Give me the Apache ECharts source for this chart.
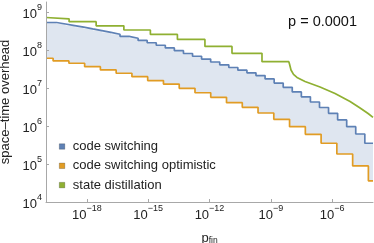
<!DOCTYPE html>
<html><head><meta charset="utf-8">
<script src="https://cdn.jsdelivr.net/npm/echarts@6/dist/echarts.min.js"></script>
<style>html,body{margin:0;padding:0;background:#fff}#c{width:374px;height:243px}</style>
</head><body><div id="c"></div>
<script>
// code switching (step starts, last entry = right edge)
const blueP = [1e-20, 3.27e-20, 9.07e-20, 2.52e-19, 7.00e-19, 1.94e-18, 5.40e-18, 1.50e-17, 4.17e-17, 1.16e-16, 3.21e-16, 8.93e-16, 2.48e-15, 6.89e-15, 1.91e-14, 5.32e-14, 1.48e-13, 4.10e-13, 1.14e-12, 3.17e-12, 8.80e-12, 2.44e-11, 6.79e-11, 1.88e-10, 5.24e-10, 1.46e-9, 4.04e-9, 1.12e-8, 3.12e-8, 8.66e-8, 2.41e-7, 6.68e-7, 1.86e-6, 5.16e-6, 1.43e-5, 3.98e-5, 1e-4];
const blueV = [5.29e8, 4.83e8, 4.39e8, 3.98e8, 3.59e8, 3.24e8, 2.90e8, 2.59e8, 2.29e8, 2.03e8, 1.78e8, 1.55e8, 1.33e8, 1.13e8, 9.59e7, 8.09e7, 6.83e7, 5.76e7, 4.83e7, 4.08e7, 3.46e7, 2.94e7, 2.50e7, 2.12e7, 1.73e7, 1.35e7, 1.04e7, 7.89e6, 5.87e6, 4.28e6, 3.07e6, 2.16e6, 1.44e6, 9.59e5, 6.16e5, 3.51e5, 3.51e5];
// code switching optimistic
const orangeP = [1e-20, 2.23e-20, 1.32e-19, 7.78e-19, 4.59e-18, 2.71e-17, 1.60e-16, 9.46e-16, 5.59e-15, 3.30e-14, 1.95e-13, 1.15e-12, 6.80e-12, 4.02e-11, 2.37e-10, 1.40e-9, 8.27e-9, 4.89e-8, 2.89e-7, 1.70e-6, 1.01e-5, 5.94e-5, 1e-4];
const orangeV = [6.05e7, 5.14e7, 4.47e7, 3.64e7, 2.98e7, 2.44e7, 1.98e7, 1.57e7, 1.27e7, 9.8e6, 7.5e6, 5.69e6, 4.10e6, 3.10e6, 2.20e6, 1.50e6, 9.6e5, 6.05e5, 3.51e5, 1.83e5, 8.9e4, 3.6e4, 3.6e4];
// state distillation (explicit vertices)
const greenP = [1e-20, 1.35e-19, 1.35e-19, 2.84e-18, 2.84e-18, 6.46e-17, 6.46e-17, 1.28e-15, 1.28e-15, 2.69e-14, 2.69e-14, 5.98e-13, 5.98e-13, 1.26e-11, 1.26e-11, 3.70e-10, 3.70e-10, 7.59e-9, 8.22e-9, 9.73e-9, 1.29e-8, 1.91e-8, 4.72e-8, 2.56e-7, 1.39e-6, 7.55e-6, 2.33e-5, 5.75e-5, 1e-4];
const greenV = [7.16e8, 6.62e8, 5.56e8, 5.56e8, 4.33e8, 4.33e8, 3.36e8, 3.36e8, 2.56e8, 2.56e8, 1.89e8, 1.89e8, 1.24e8, 1.24e8, 8.19e7, 8.19e7, 4.92e7, 4.92e7, 4.28e7, 2.98e7, 2.27e7, 1.89e7, 1.48e7, 1.06e7, 7.17e6, 4.41e6, 2.98e6, 2.13e6, 1.68e6];

const seriesNames = ['code switching', 'code switching optimistic', 'state distillation'];
const xTicks = [1e-18, 1e-15, 1e-12, 1e-9, 1e-6];
const yTicks = [1e4, 1e5, 1e6, 1e7, 1e8, 1e9];
const xRange = [1e-20, 1e-4];
const yRange = [1e4, 1.83e9];
const annotation = 'p = 0.0001';

const colors = ['#5E81B5', '#E19C24', '#8FB032'];
const MINUS = '\u2212';
function powLabel(v) {
  const e = Math.round(Math.log10(v));
  return '{b|10}{s|' + String(e).replace('-', MINUS) + '}';
}
const rich = {
  b: {fontSize: 13, lineHeight: 18, verticalAlign: 'bottom', color: '#222', fontFamily: 'Liberation Sans'},
  s: {fontSize: 9, verticalAlign: 'top', color: '#222', fontFamily: 'Liberation Sans'}
};
const axisCol = '#a8a8a8';

const chart = echarts.init(document.getElementById('c'), null, {renderer: 'canvas'});
chart.setOption({
  animation: false,
  textStyle: {fontFamily: 'Liberation Sans'},
  grid: {left: 46, right: 1, top: 2, bottom: 41, containLabel: false, outerBoundsMode: 'none'},
  title: {text: annotation, right: 12, top: 9, textStyle: {fontSize: 14.5, fontWeight: 'normal', color: '#111', fontFamily: 'Liberation Sans'}},
  legend: {
    orient: 'vertical', left: 54, top: 135, itemGap: 6.3, itemWidth: 5.5, itemHeight: 5.5, icon: 'rect',
    data: seriesNames,
    textStyle: {fontSize: 13, lineHeight: 13, color: '#222', padding: [0, 0, 0, 3], fontFamily: 'Liberation Sans'},
    itemStyle: {borderColor: 'rgba(0,0,0,0.35)', borderWidth: 0.6}
  },
  xAxis: {
    type: 'log', logBase: 10, min: xRange[0], max: xRange[1],
    name: 'p{sub|fin}', nameLocation: 'middle', nameGap: 30,
    nameTextStyle: {fontSize: 13, color: '#222', rich: {sub: {fontSize: 8.5, verticalAlign: 'bottom', color: '#222'}}},
    axisLine: {lineStyle: {color: axisCol, width: 1}},
    axisTick: {inside: true, length: 3, lineStyle: {color: axisCol}, customValues: xTicks},
    axisLabel: {customValues: xTicks, formatter: powLabel, rich: rich, margin: 2},
    splitLine: {show: false}, z: 10
  },
  yAxis: {
    type: 'log', logBase: 10, min: yRange[0], max: yRange[1],
    name: 'space\u2013time overhead', nameLocation: 'middle', nameGap: 34,
    nameTextStyle: {fontSize: 13, color: '#222'},
    axisLine: {show: true, lineStyle: {color: axisCol, width: 1}},
    axisTick: {show: true, inside: true, length: 3, lineStyle: {color: axisCol}, customValues: yTicks},
    axisLabel: {customValues: yTicks, formatter: powLabel, rich: rich, margin: 4},
    splitLine: {show: false}, z: 10
  },
  series: [
    {
      type: 'custom', name: 'band', z: 1, silent: true,
      data: [[xRange[0], yRange[0]]],
      renderItem: function (params, api) {
        const pts = [];
        for (let i = 0; i < blueP.length - 1; i++) {
          pts.push(api.coord([blueP[i], blueV[i]]));
          pts.push(api.coord([blueP[i + 1], blueV[i]]));
        }
        for (let i = orangeP.length - 2; i >= 0; i--) {
          pts.push(api.coord([orangeP[i + 1], orangeV[i]]));
          pts.push(api.coord([orangeP[i], orangeV[i]]));
        }
        return {type: 'polygon', shape: {points: pts}, style: {fill: '#dfe6f0'}};
      }
    },
    {type: 'line', name: seriesNames[0], step: 'end', symbol: 'none', z: 3,
     itemStyle: {color: colors[0]}, lineStyle: {color: colors[0], width: 1.7},
     data: blueP.map((p, i) => [p, blueV[i]])},
    {type: 'line', name: seriesNames[1], step: 'end', symbol: 'none', z: 3,
     itemStyle: {color: colors[1]}, lineStyle: {color: colors[1], width: 1.7},
     data: orangeP.map((p, i) => [p, orangeV[i]])},
    {type: 'line', name: seriesNames[2], symbol: 'none', z: 3, smooth: false,
     itemStyle: {color: colors[2]}, lineStyle: {color: colors[2], width: 1.7},
     data: greenP.map((p, i) => [p, greenV[i]])}
  ]
});
</script>
</body></html>
